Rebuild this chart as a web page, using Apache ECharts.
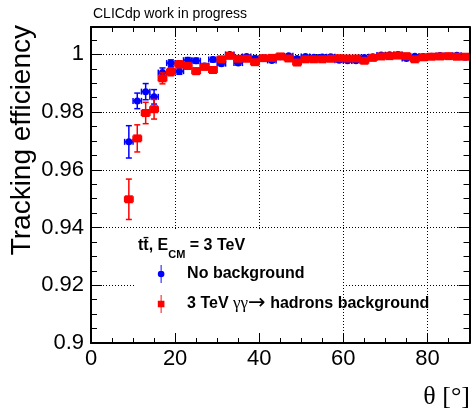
<!DOCTYPE html>
<html><head><meta charset="utf-8">
<script src="https://cdn.jsdelivr.net/npm/echarts@6/dist/echarts.min.js"></script>
<style>html,body{margin:0;padding:0;background:#fff}#c{width:473px;height:412px}</style>
</head><body><div id="c"></div>
<script>
// ---- data ----
const thetaBins = [9,11,13,15,17,19,21,23,25,27,29,31,33,35,37,39,41,43,45,47,49,51,53,55,57,59,61,63,65,67,69,71,73,75,77,79,81,83,85,87,89];
const effNoBkg = [0.9697,0.9839,0.9871,0.9853,0.9937,0.9970,0.9942,0.9980,0.9978,0.9960,0.9982,0.9968,1.0000,0.9970,0.9993,0.9987,0.9988,0.9979,0.9992,0.9995,0.9986,0.9993,0.9990,0.9991,0.9992,0.9980,0.9978,0.9978,0.9989,0.9992,0.9998,0.9999,1.0000,0.9986,0.9994,0.9993,0.9994,0.9996,0.9994,0.9997,0.9990];
const errNoBkg = [0.0056,0.0027,0.0028,0.0025,0.0016,0.0011,0.0011,0.0009,0.0009,0.0008,0.0008,0.0007,0.0006,0.0007,0.0006,0.0006,0.0006,0.0006,0.0005,0.0005,0.0005,0.0005,0.0005,0.0005,0.0005,0.0005,0.0005,0.0005,0.0005,0.0005,0.0004,0.0004,0.0004,0.0005,0.0004,0.0004,0.0004,0.0004,0.0004,0.0004,0.0004];
const effBkg = [0.9498,0.9709,0.9797,0.9810,0.9917,0.9940,0.9966,0.9960,0.9942,0.9957,0.9946,0.9983,0.9995,0.9985,0.9985,0.9973,0.9987,0.9988,0.9993,0.9986,0.9972,0.9983,0.9983,0.9983,0.9985,0.9987,0.9986,0.9986,0.9978,0.9988,0.9993,0.9994,0.9996,0.9994,0.9983,0.9990,0.9992,0.9993,0.9994,0.9992,0.9992];
const errBkg = [0.0070,0.0047,0.0037,0.0034,0.0019,0.0014,0.0012,0.0011,0.0011,0.0010,0.0010,0.0008,0.0007,0.0008,0.0007,0.0008,0.0006,0.0006,0.0006,0.0006,0.0006,0.0006,0.0006,0.0006,0.0006,0.0006,0.0006,0.0006,0.0006,0.0006,0.0005,0.0005,0.0005,0.0005,0.0005,0.0005,0.0005,0.0005,0.0005,0.0005,0.0005];
const binHalfWidth = 1;
const xTickValues = [0,20,40,60,80];
const yTickValues = [0.9,0.92,0.94,0.96,0.98,1];
const nameNoBkg = 'No background';
const nameBkg = '3 TeV γγ→ hadrons background';

// ---- style ----
const SANS = "'Liberation Sans', Arial, Helvetica, sans-serif";
const SERIF = "'Liberation Serif', 'Times New Roman', serif";
const BLUE = '#0000ff', RED = '#ff0000';
const X_MIN = 0, X_MAX = 90, Y_MIN = 0.9, Y_MAX = 1.0095;

const chart = echarts.init(document.getElementById('c'), null, {renderer:'canvas'});

function errorBars(color) {
  return function (params, api) {
    const x = api.value(0), y = api.value(1), e = api.value(2), h = api.value(3);
    const c = api.coord([x, y]);
    const t = api.coord([x, y + e]), b = api.coord([x, y - e]);
    const l = api.coord([x - h, y]), r = api.coord([x + h, y]);
    const cap = 3;
    const st = {stroke: color, lineWidth: 1.5};
    return {type: 'group', children: [
      {type:'line', shape:{x1:c[0], y1:t[1], x2:c[0], y2:b[1]}, style:st},
      {type:'line', shape:{x1:l[0], y1:c[1], x2:r[0], y2:c[1]}, style:st},
      {type:'line', shape:{x1:c[0]-cap, y1:t[1], x2:c[0]+cap, y2:t[1]}, style:st},
      {type:'line', shape:{x1:c[0]-cap, y1:b[1], x2:c[0]+cap, y2:b[1]}, style:st},
      {type:'line', shape:{x1:l[0], y1:c[1]-cap, x2:l[0], y2:c[1]+cap}, style:st},
      {type:'line', shape:{x1:r[0], y1:c[1]-cap, x2:r[0], y2:c[1]+cap}, style:st}
    ]};
  };
}

const lineBlack = {color:'#000', width:2};
const tickStyle = {color:'#000', width:1};
function xAx(extra) {
  return Object.assign({type:'value', min:X_MIN, max:X_MAX, axisLine:{show:false, onZero:false},
    axisTick:{show:false}, axisLabel:{show:false}, splitLine:{show:false}, z:5}, extra);
}
function yAx(extra) {
  return Object.assign({type:'value', min:Y_MIN, max:Y_MAX, axisLine:{show:false, onZero:false},
    axisTick:{show:false}, axisLabel:{show:false}, splitLine:{show:false}, z:5}, extra);
}

const option = {
  animation: false,
  backgroundColor: '#fff',
  grid: {left: 91, right: 3.5, top: 27, bottom: 69, containLabel: false},
  xAxis: [
    xAx({position:'bottom', interval:20,
      axisLine:{show:true, onZero:false, lineStyle:lineBlack},
      axisTick:{show:true, inside:true, length:10, lineStyle:tickStyle, customValues:xTickValues},
      axisLabel:{show:true, customValues:xTickValues, fontSize:22, fontFamily:SANS, color:'#000', margin:5,
        formatter: v => String(v)}}),
    xAx({position:'bottom', interval:5, axisTick:{show:true, inside:true, length:5, lineStyle:tickStyle}}),
    xAx({position:'top', interval:20, axisLine:{show:true, onZero:false, lineStyle:lineBlack},
      axisTick:{show:true, inside:true, length:10, lineStyle:tickStyle, customValues:xTickValues}}),
    xAx({position:'top', interval:5, axisTick:{show:true, inside:true, length:5, lineStyle:tickStyle}}),
    xAx({position:'bottom', interval:20, z:0,
      splitLine:{show:true, lineStyle:{color:'#000', width:1, type:[1,2]}}})
  ],
  yAxis: [
    yAx({position:'left', interval:0.02,
      axisLine:{show:true, onZero:false, lineStyle:lineBlack},
      axisTick:{show:true, inside:true, length:11, lineStyle:tickStyle, customValues:yTickValues},
      axisLabel:{show:true, customValues:yTickValues, fontSize:22, fontFamily:SANS, color:'#000', margin:7,
        formatter: v => String(+(+v).toFixed(2))}}),
    yAx({position:'left', interval:0.005, axisTick:{show:true, inside:true, length:6, lineStyle:tickStyle}}),
    yAx({position:'right', interval:0.02, axisLine:{show:true, onZero:false, lineStyle:lineBlack},
      axisTick:{show:true, inside:true, length:11, lineStyle:tickStyle, customValues:yTickValues}}),
    yAx({position:'right', interval:0.005, axisTick:{show:true, inside:true, length:6, lineStyle:tickStyle}}),
    yAx({position:'left', interval:0.02, z:0,
      splitLine:{show:true, lineStyle:{color:'#000', width:1, type:[1,2]}}})
  ],
  legend: {
    orient:'vertical', left:152.8, top:260, padding:5, itemWidth:7, itemHeight:18, itemGap:10.5,
    selectedMode:false, z:10,
    data:[
      {name:nameNoBkg, icon:'path://M3,0h1v19h-1z M0,9.5a3.5,3.5 0 1,1 7,0a3.5,3.5 0 1,1 -7,0z'},
      {name:nameBkg, icon:'path://M3,0h1v19h-1z M0,6h7v7h-7z'}
    ],
    formatter: function (name) {
      if (name === nameNoBkg) return '{sp|}{b|No background}';
      return '{sp|}{b|3 TeV }{g|γγ}{ar|→}{b| hadrons background}';
    },
    textStyle: {fontFamily:SANS, fontSize:16, fontWeight:'bold', color:'#000',
      rich: {
        sp: {width:17.5},
        b: {fontFamily:SANS, fontSize:16, fontWeight:'bold', color:'#000'},
        g: {fontFamily:SERIF, fontSize:17, fontWeight:'normal', color:'#000'},
        ar: {fontFamily:"'DejaVu Sans', sans-serif", fontSize:21, fontWeight:'normal', color:'#000'}
      }}
  },
  graphic: [
    {type:'rect', silent:true, z:1, shape:{x:135, y:229, width:206, height:113}, style:{fill:'#fff'}},
    {type:'text', silent:true, z:10, x:93, y:14.5,
      style:{text:'CLICdp work in progress', font:'14px ' + SANS, fill:'#000',
        verticalAlign:'middle', textVerticalAlign:'middle'}},
    {type:'text', silent:true, z:10, x:22, y:25, rotation:Math.PI/2,
      style:{text:'Tracking efficiency', font:'28px ' + SANS, fill:'#000',
        align:'right', textAlign:'right', verticalAlign:'middle', textVerticalAlign:'middle'}},
    {type:'text', silent:true, z:10, x:470, y:397,
      style:{text:'θ [°]', font:'26px ' + SERIF, fill:'#000',
        align:'right', textAlign:'right', verticalAlign:'middle', textVerticalAlign:'middle'}},
    {type:'text', silent:true, z:10, x:138, y:247.5,
      style:{text:'{a|tt\u0304, E}{s|CM}{a| = 3 TeV}', fill:'#000',
        verticalAlign:'middle', textVerticalAlign:'middle',
        rich:{
          a:{fontFamily:SANS, fontSize:16, fontWeight:'bold', fill:'#000', lineHeight:20, verticalAlign:'top'},
          s:{fontFamily:SANS, fontSize:11, fontWeight:'bold', fill:'#000', lineHeight:12, padding:[12,0,0,0], verticalAlign:'top'}
        }}}
  ],
  series: [
    {type:'custom', name:nameNoBkg, xAxisIndex:0, yAxisIndex:0, z:2, silent:true,
      renderItem: errorBars(BLUE), itemStyle:{color:BLUE},
      dimensions:['theta','eff','err','xerr'], encode:{x:0, y:1},
      data: thetaBins.map((t, i) => [t, effNoBkg[i], errNoBkg[i], binHalfWidth])},
    {type:'scatter', name:nameNoBkg, xAxisIndex:0, yAxisIndex:0, z:3, silent:true,
      symbol:'circle', symbolSize:7, itemStyle:{color:BLUE, opacity:1},
      data: thetaBins.map((t, i) => [t, effNoBkg[i]])},
    {type:'custom', name:nameBkg, xAxisIndex:0, yAxisIndex:0, z:4, silent:true,
      renderItem: errorBars(RED), itemStyle:{color:RED},
      dimensions:['theta','eff','err','xerr'], encode:{x:0, y:1},
      data: thetaBins.map((t, i) => [t, effBkg[i], errBkg[i], binHalfWidth])},
    {type:'scatter', name:nameBkg, xAxisIndex:0, yAxisIndex:0, z:5, silent:true,
      symbol:'rect', symbolSize:8, itemStyle:{color:RED, opacity:1},
      data: thetaBins.map((t, i) => [t, effBkg[i]])}
  ]
};
chart.setOption(option);
</script>
</body></html>
